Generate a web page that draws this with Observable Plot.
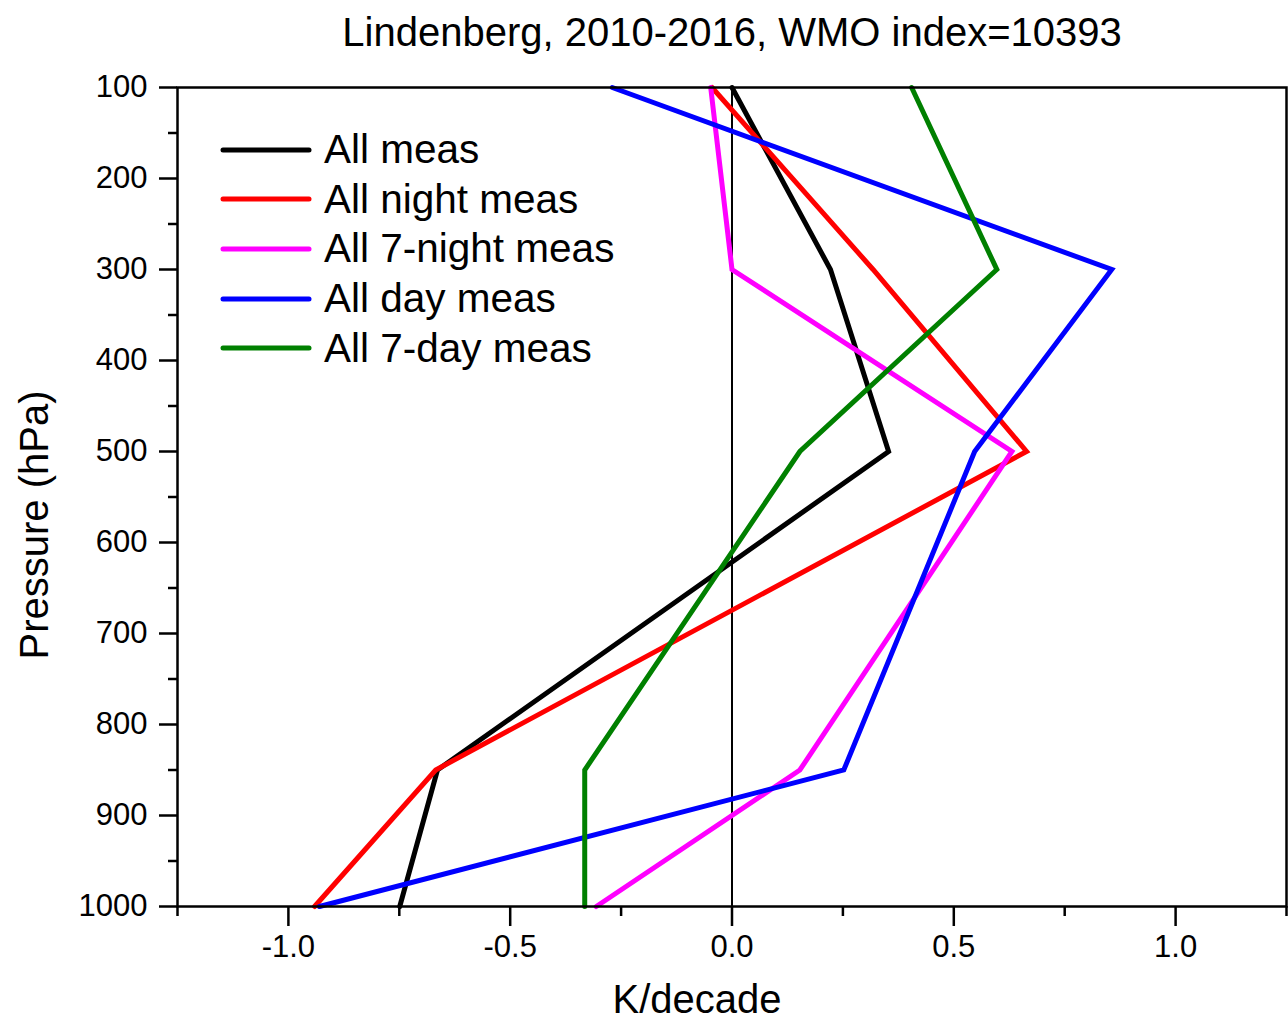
<!DOCTYPE html>
<html>
<head>
<meta charset="utf-8">
<script src="https://cdn.jsdelivr.net/npm/d3@7"></script>
<script src="https://cdn.jsdelivr.net/npm/@observablehq/plot@0.6"></script>
<style>
  html, body { margin: 0; padding: 0; background: #fff; }
  #wrap { position: relative; width: 1288px; height: 1023px; font-family: "Liberation Sans", Arial, sans-serif; }
  #legend { position: absolute; left: 220px; top: 125px; }
  .item { display: flex; align-items: center; height: 49.6px; font-size: 40.5px; color: #000; }
  .item svg { margin-right: 12px; }
</style>
</head>
<body>
<div id="wrap"><div id="legend"></div></div>
<script>
const title = "Lindenberg, 2010-2016, WMO index=10393";
const xLabel = "K/decade";
const yLabel = "Pressure (hPa)";

const levels = [100, 300, 500, 850, 1000];
const seriesNames = ["All meas", "All night meas", "All 7-night meas", "All day meas", "All 7-day meas"];
const seriesColors = ["#000000", "#ff0000", "#ff00ff", "#0000ff", "#008000"];

const allMeas      = [0.0,   0.222, 0.353, -0.664, -0.749];
const allNightMeas = [-0.045, 0.318, 0.664, -0.668, -0.941];
const all7NightMeas= [-0.048, 0.0,   0.631,  0.153, -0.306];
const allDayMeas   = [-0.27,  0.856, 0.547,  0.252, -0.93];
const all7DayMeas  = [0.405,  0.597, 0.153, -0.332, -0.332];

const xMajorTicks = [-1.0, -0.5, 0.0, 0.5, 1.0];
const xMinorTicks = [-1.25, -0.75, -0.25, 0.25, 0.75, 1.25];
const yMajorTicks = [100, 200, 300, 400, 500, 600, 700, 800, 900, 1000];
const yMinorTicks = [150, 250, 350, 450, 550, 650, 750, 850, 950];

const seriesValues = [allMeas, allNightMeas, all7NightMeas, allDayMeas, all7DayMeas];
const rows = [];
seriesNames.forEach((name, i) => {
  levels.forEach((p, j) => rows.push({series: name, pressure: p, value: seriesValues[i][j]}));
});

const font = '"Liberation Sans", Arial, sans-serif';

const chart = Plot.plot({
  width: 1288,
  height: 1023,
  marginTop: 87,
  marginBottom: 117,
  marginLeft: 177,
  marginRight: 2,
  style: {fontFamily: font, background: "#fff", color: "#000"},
  x: {domain: [-1.25, 1.25]},
  y: {domain: [100, 1000], reverse: true},
  color: {domain: seriesNames, range: seriesColors},
  marks: [
    Plot.ruleX([0], {stroke: "#000", strokeWidth: 2}),
    Plot.line(rows, {x: "value", y: "pressure", z: "series", stroke: "series", strokeWidth: 5, strokeLinejoin: "miter", strokeMiterlimit: 3}),
    Plot.axisX({ticks: xMajorTicks, tickSize: 20, tickPadding: 8, strokeWidth: 2.5, fontSize: 31, tickFormat: d => d.toFixed(1), label: null}),
    Plot.axisX({ticks: xMinorTicks, tickSize: 10, strokeWidth: 2.5, text: null, label: null}),
    Plot.axisY({ticks: yMajorTicks, tickSize: 18, tickPadding: 12, strokeWidth: 2.5, fontSize: 31, tickFormat: d => String(d), label: null}),
    Plot.axisY({ticks: yMinorTicks, tickSize: 9, strokeWidth: 2.5, text: null, label: null}),
    Plot.frame({stroke: "#000", strokeWidth: 2.5}),
    Plot.text([title], {frameAnchor: "top", dy: -70, dx: 0, fontSize: 40, text: d => d}),
    Plot.text([xLabel], {frameAnchor: "bottom", dy: 106, dx: -35, fontSize: 40, text: d => d}),
    Plot.text([yLabel], {frameAnchor: "left", textAnchor: "middle", dx: -142, dy: 28, rotate: -90, fontSize: 40, text: d => d})
  ]
});

const wrap = document.getElementById("wrap");
wrap.insertBefore(chart, wrap.firstChild);

const legend = document.getElementById("legend");
seriesNames.forEach((name, i) => {
  const item = document.createElement("div");
  item.className = "item";
  item.innerHTML = `<svg width="92" height="10"><line x1="3" y1="5" x2="89" y2="5" stroke="${seriesColors[i]}" stroke-width="5" stroke-linecap="round"/></svg><span>${name}</span>`;
  legend.appendChild(item);
});
</script>
</body>
</html>
